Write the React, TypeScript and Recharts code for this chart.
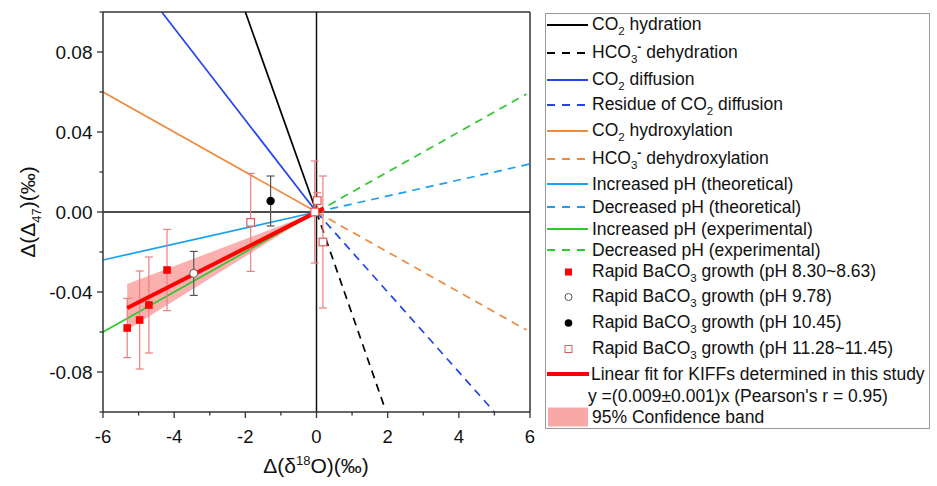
import React from 'react';
import { ComposedChart, Line, Scatter, Area, XAxis, YAxis, ReferenceLine, ErrorBar } from 'recharts';

// axis ticks
const xTicks = [-6, -5, -4, -3, -2, -1, 0, 1, 2, 3, 4, 5, 6];
const yTicks = [-0.1, -0.08, -0.06, -0.04, -0.02, 0, 0.02, 0.04, 0.06, 0.08, 0.1];

// theoretical / experimental KIFF lines (end points)
const co2HydrationX = [0, -2.0];
const co2HydrationY = [0, 0.1];
const hco3DehydrationX = [0, 1.9];
const hco3DehydrationY = [0, -0.097];
const co2DiffusionX = [0, -4.35];
const co2DiffusionY = [0, 0.1];
const residueDiffusionX = [0, 5.0];
const residueDiffusionY = [0, -0.1];
const co2HydroxylationX = [-6, 0];
const co2HydroxylationY = [0.06, 0];
const hco3DehydroxylationX = [0, 5.9];
const hco3DehydroxylationY = [0, -0.059];
const incPhTheoX = [-6, 0];
const incPhTheoY = [-0.024, 0];
const decPhTheoX = [0, 6];
const decPhTheoY = [0, 0.024];
const incPhExpX = [-6, 0];
const incPhExpY = [-0.06, 0];
const decPhExpX = [0, 5.9];
const decPhExpY = [0, 0.059];

// linear fit + confidence band
const fitX = [-5.32, 0.2];
const fitY = [-0.048, 0.0018];
const bandX = [-5.32, 0];
const bandLow = [-0.059, 0];
const bandHigh = [-0.036, 0];

// measurements
const ph830X = [-5.32, -4.97, -4.71, -4.2];
const ph830Y = [-0.058, -0.054, -0.0465, -0.029];
const ph830Err = [0.0148, 0.0245, 0.024, 0.0203];
const ph978X = [-3.45];
const ph978Y = [-0.0307];
const ph978Err = [0.011];
const ph1045X = [-1.29];
const ph1045Y = [0.0055];
const ph1045Err = [0.0125];
const ph1128X = [-1.85, -0.05, 0.02, 0.18];
const ph1128Y = [-0.0052, 0.0, 0.0057, -0.015];
const ph1128Err = [0.0245, 0.0255, 0.004, 0.033];

const seg = (xs: number[], ys: number[]) => xs.map((x, i) => ({ x, y: ys[i] }));
const pts = (xs: number[], ys: number[], es: number[]) => xs.map((x, i) => ({ x, y: ys[i], err: es[i] }));

const FONT = '"Liberation Sans", Arial, sans-serif';
const BLUE = '#2545e8';
const ORANGE = '#ef8a3c';
const LBLUE = '#1aa0f0';
const GREEN = '#2fc82f';
const PINK = '#ee7f7f';
const AXIS = '#333';

const XTick = (props: any) => {
  const { x, y, payload } = props;
  const ay = y - 10;
  const v = payload.value;
  const major = Math.round(v) % 2 === 0;
  return (
    <g>
      <line x1={x} x2={x} y1={ay} y2={ay + (major ? 6 : 3.5)} stroke={AXIS} strokeWidth={1.3} />
      {major && (
        <text x={x} y={ay + 31} textAnchor="middle" fontSize={18.5} fontFamily={FONT} fill="#111">
          {v}
        </text>
      )}
    </g>
  );
};

const YTick = (props: any) => {
  const { x, y, payload } = props;
  const ax = x + 10;
  const v = payload.value;
  const major = Math.round(v * 100) % 4 === 0;
  return (
    <g>
      <line x1={ax} x2={ax - (major ? 6 : 3.5)} y1={y} y2={y} stroke={AXIS} strokeWidth={1.3} />
      {major && (
        <text x={ax - 10.5} y={y} dy="0.36em" textAnchor="end" fontSize={19} fontFamily={FONT} fill="#111">
          {v.toFixed(2)}
        </text>
      )}
    </g>
  );
};

const redSquare = (p: any) => <rect x={p.cx - 3.8} y={p.cy - 3.8} width={7.6} height={7.6} fill="#f00" />;
const openCircle = (p: any) => <circle cx={p.cx} cy={p.cy} r={4} fill="#fff" stroke="#555" strokeWidth={1} />;
const blackDot = (p: any) => <circle cx={p.cx} cy={p.cy} r={4.2} fill="#000" />;
const pinkSquare = (p: any) => (
  <rect x={p.cx - 3.8} y={p.cy - 3.8} width={7.6} height={7.6} fill="#fff" stroke="#e05a5a" strokeWidth={1.2} />
);

const Sub = ({ c }: { c: string }) => (
  <span style={{ fontSize: 11.5, position: 'relative', top: 5 }}>{c}</span>
);
const Sup = ({ c }: { c: string }) => (
  <span style={{ fontSize: 12, position: 'relative', top: -7, fontWeight: 'bold' }}>{c}</span>
);

type LegendRow = { y: number; kind: string; color?: string; label: React.ReactNode; tx?: number };
const legendRows: LegendRow[] = [
  { y: 25, kind: 'solid', color: '#000', label: <>CO<Sub c="2" /> hydration</> },
  { y: 53, kind: 'dash', color: '#000', label: <>HCO<Sub c="3" /><Sup c="-" /> dehydration</> },
  { y: 80, kind: 'solid', color: BLUE, label: <>CO<Sub c="2" /> diffusion</> },
  { y: 105, kind: 'dash', color: BLUE, label: <>Residue of CO<Sub c="2" /> diffusion</> },
  { y: 131, kind: 'solid', color: ORANGE, label: <>CO<Sub c="2" /> hydroxylation</> },
  { y: 159, kind: 'dash', color: ORANGE, label: <>HCO<Sub c="3" /><Sup c="-" /> dehydroxylation</> },
  { y: 184, kind: 'solid', color: LBLUE, label: <>Increased pH (theoretical)</> },
  { y: 207, kind: 'dash', color: LBLUE, label: <>Decreased pH (theoretical)</> },
  { y: 229, kind: 'solid', color: GREEN, label: <>Increased pH (experimental)</> },
  { y: 250, kind: 'dash', color: GREEN, label: <>Decreased pH (experimental)</> },
  { y: 272, kind: 'redsq', label: <>Rapid BaCO<Sub c="3" /> growth (pH 8.30~8.63)</> },
  { y: 297, kind: 'opencirc', label: <>Rapid BaCO<Sub c="3" /> growth (pH 9.78)</> },
  { y: 323, kind: 'dot', label: <>Rapid BaCO<Sub c="3" /> growth (pH 10.45)</> },
  { y: 349, kind: 'pinksq', label: <>Rapid BaCO<Sub c="3" /> growth (pH 11.28~11.45)</> },
  { y: 374, kind: 'fit', label: <>Linear fit for KIFFs determined in this study</>, tx: 591 },
  { y: 396, kind: 'none', label: <>y =(0.009±0.001)x (Pearson's r = 0.95)</>, tx: 588 },
  { y: 417, kind: 'band', label: <>95% Confidence band</> },
];

const LegendSymbol = ({ row }: { row: LegendRow }) => {
  const w = 44;
  const h = 24;
  const m = h / 2;
  let el: React.ReactNode = null;
  if (row.kind === 'solid') el = <line x1={1} x2={42} y1={m} y2={m} stroke={row.color} strokeWidth={1.8} />;
  if (row.kind === 'dash') el = <line x1={1} x2={42} y1={m} y2={m} stroke={row.color} strokeWidth={1.8} strokeDasharray="8 7" />;
  if (row.kind === 'redsq') el = <rect x={19} y={m - 3.5} width={7} height={7} fill="#f00" />;
  if (row.kind === 'opencirc') el = <circle cx={22.5} cy={m} r={3.5} fill="#fff" stroke="#555" />;
  if (row.kind === 'dot') el = <circle cx={22.5} cy={m} r={3.8} fill="#000" />;
  if (row.kind === 'pinksq') el = <rect x={19} y={m - 3.5} width={7} height={7} fill="#fff" stroke="#e05a5a" />;
  if (row.kind === 'fit') el = <line x1={1} x2={43} y1={m} y2={m} stroke="#f00" strokeWidth={4} />;
  if (row.kind === 'band') el = <rect x={2.5} y={m - 9} width={39} height={18} fill="#f9a7a7" stroke="#e8b0b0" />;
  return (
    <svg width={w} height={h} style={{ position: 'absolute', left: 546, top: row.y - m }}>
      {el}
    </svg>
  );
};

export default function App() {
  const lineProps = { dataKey: 'y', dot: false, activeDot: false, isAnimationActive: false, strokeWidth: 1.7, type: 'linear' as const };
  return (
    <div style={{ position: 'absolute', left: 0, top: 0, width: 937, height: 486, background: '#fff', fontFamily: FONT }}>
      <ComposedChart width={937} height={486} margin={{ top: 12, right: 407, bottom: 44, left: 43 }}>
        <XAxis
          type="number"
          dataKey="x"
          domain={[-6, 6]}
          ticks={xTicks}
          allowDataOverflow
          height={30}
          tickSize={6}
          tickMargin={4}
          tickLine={false}
          tick={<XTick />}
          stroke={AXIS}
          strokeWidth={1.5}
          interval={0}
        />
        <YAxis
          type="number"
          dataKey="y"
          domain={[-0.1, 0.1]}
          ticks={yTicks}
          allowDataOverflow
          width={60}
          tickSize={6}
          tickMargin={4}
          tickLine={false}
          tick={<YTick />}
          stroke={AXIS}
          strokeWidth={1.5}
          interval={0}
        />
        <ReferenceLine y={0.1} stroke={AXIS} strokeWidth={1.5} />
        <ReferenceLine x={6} stroke={AXIS} strokeWidth={1.5} />
        <ReferenceLine y={0} stroke="#111" strokeWidth={1.5} />
        <ReferenceLine x={0} stroke="#111" strokeWidth={1.5} />

        <Line {...lineProps} data={seg(co2HydrationX, co2HydrationY)} stroke="#000" />
        <Line {...lineProps} data={seg(hco3DehydrationX, hco3DehydrationY)} stroke="#000" strokeDasharray="8 6" />
        <Line {...lineProps} data={seg(co2DiffusionX, co2DiffusionY)} stroke={BLUE} />
        <Line {...lineProps} data={seg(residueDiffusionX, residueDiffusionY)} stroke={BLUE} strokeDasharray="8 6" />
        <Line {...lineProps} data={seg(co2HydroxylationX, co2HydroxylationY)} stroke={ORANGE} />
        <Line {...lineProps} data={seg(hco3DehydroxylationX, hco3DehydroxylationY)} stroke={ORANGE} strokeDasharray="8 6" />
        <Line {...lineProps} data={seg(incPhTheoX, incPhTheoY)} stroke={LBLUE} />
        <Line {...lineProps} data={seg(decPhTheoX, decPhTheoY)} stroke={LBLUE} strokeDasharray="8 6" />
        <Line {...lineProps} data={seg(incPhExpX, incPhExpY)} stroke={GREEN} />
        <Line {...lineProps} data={seg(decPhExpX, decPhExpY)} stroke={GREEN} strokeDasharray="8 6" />

        <Area
          data={bandX.map((x, i) => ({ x, band: [bandLow[i], bandHigh[i]] }))}
          dataKey="band"
          type="linear"
          fill="#f76d6d"
          fillOpacity={0.55}
          stroke="none"
          isAnimationActive={false}
          activeDot={false}
        />

        <Scatter data={pts(ph978X, ph978Y, ph978Err)} shape={openCircle} isAnimationActive={false}>
          <ErrorBar dataKey="err" direction="y" width={4} stroke="#555" strokeWidth={1.2} />
        </Scatter>
        <Scatter data={pts(ph1045X, ph1045Y, ph1045Err)} shape={blackDot} isAnimationActive={false}>
          <ErrorBar dataKey="err" direction="y" width={4} stroke="#555" strokeWidth={1.2} />
        </Scatter>
        <Scatter data={pts(ph1128X, ph1128Y, ph1128Err)} shape={pinkSquare} isAnimationActive={false}>
          <ErrorBar dataKey="err" direction="y" width={4} stroke={PINK} strokeWidth={1.2} />
        </Scatter>
        <Scatter data={pts(ph830X, ph830Y, ph830Err)} shape={redSquare} isAnimationActive={false}>
          <ErrorBar dataKey="err" direction="y" width={4} stroke={PINK} strokeWidth={1.2} />
        </Scatter>

        <Line {...lineProps} data={seg(fitX, fitY)} stroke="#f00" strokeWidth={4} />
      </ComposedChart>

      {/* axis titles */}
      <div
        style={{
          position: 'absolute',
          left: 28,
          top: 212,
          transform: 'translate(-50%, -50%) rotate(-90deg)',
          fontSize: 21,
          whiteSpace: 'nowrap',
          color: '#111',
        }}
      >
        Δ(Δ<span style={{ fontSize: 13, position: 'relative', top: 6 }}>47</span>)(‰)
      </div>
      <div
        style={{
          position: 'absolute',
          left: 316,
          top: 466,
          transform: 'translate(-50%, -50%)',
          fontSize: 21,
          whiteSpace: 'nowrap',
          color: '#111',
        }}
      >
        Δ(δ<span style={{ fontSize: 13, position: 'relative', top: -8 }}>18</span>O)(‰)
      </div>

      {/* legend */}
      <div
        style={{
          position: 'absolute',
          left: 545,
          top: 13,
          width: 383,
          height: 414,
          border: '1px solid #9a9a9a',
        }}
      />
      {legendRows.map((row, i) => (
        <React.Fragment key={i}>
          <LegendSymbol row={row} />
          <div
            style={{
              position: 'absolute',
              left: row.tx ?? 592,
              top: row.y,
              transform: 'translateY(-50%)',
              fontSize: 17.5,
              lineHeight: '20px',
              whiteSpace: 'nowrap',
              color: '#111',
            }}
          >
            {row.label}
          </div>
        </React.Fragment>
      ))}
    </div>
  );
}
